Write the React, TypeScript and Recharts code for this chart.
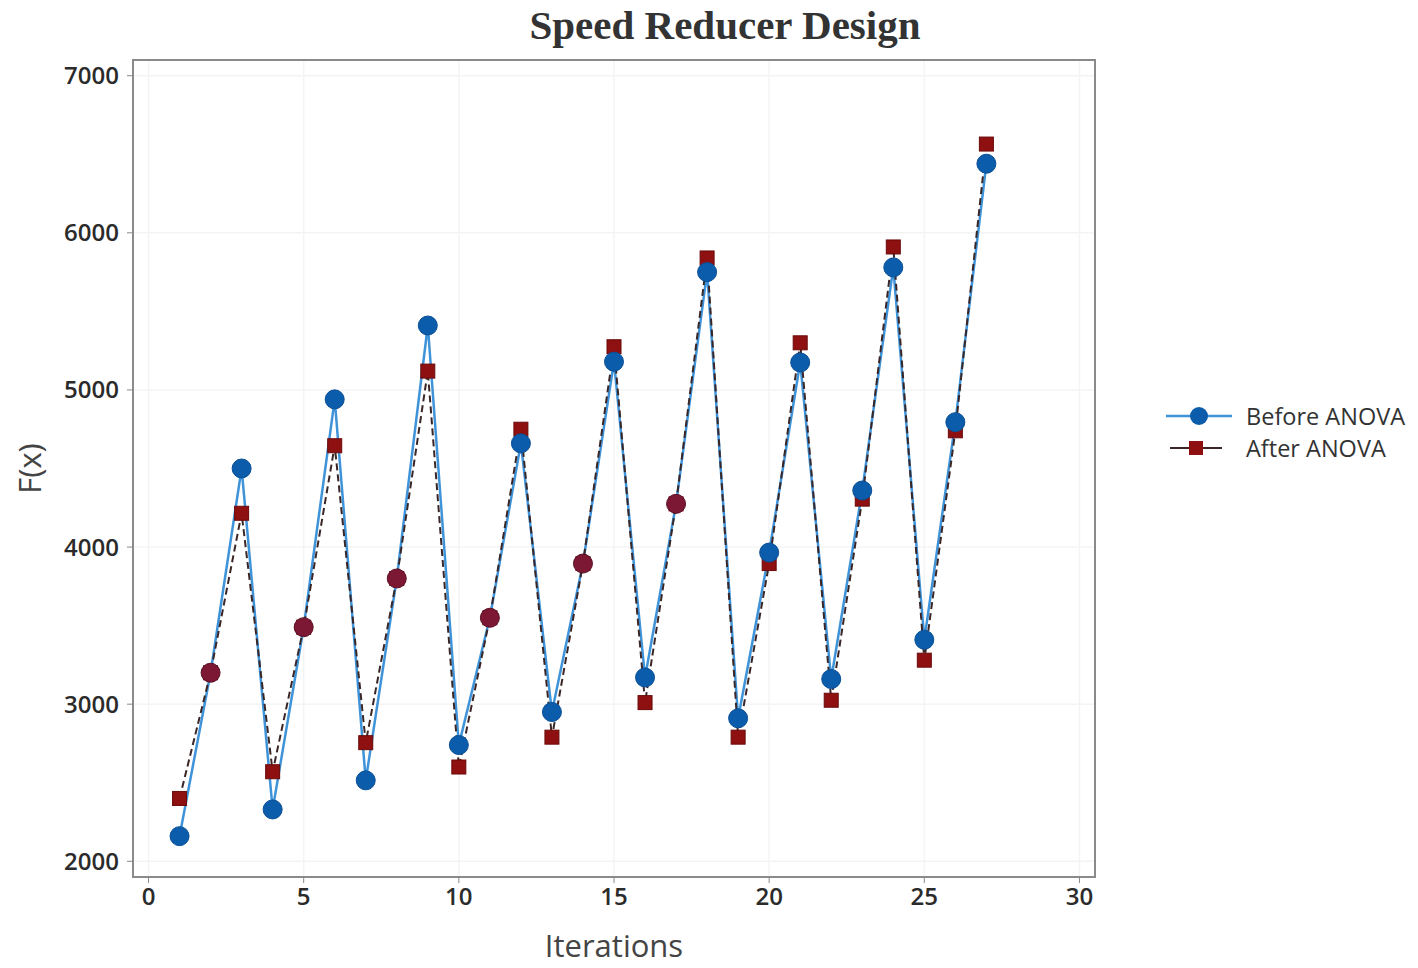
import React from "react";
import { LineChart, Line, XAxis, YAxis, CartesianGrid, ReferenceArea } from "recharts";

// values
const iterations = [1, 2, 3, 4, 5, 6, 7, 8, 9, 10, 11, 12, 13, 14, 15, 16, 17, 18, 19, 20, 21, 22, 23, 24, 25, 26, 27];
const beforeAnova = [2160, 3200, 4500, 2330, 3490, 4940, 2515, 3800, 5410, 2740, 3550, 4660, 2950, 3895, 5180, 3170, 4275, 5750, 2910, 3965, 5175, 3160, 4360, 5780, 3410, 4795, 6440];
const afterAnova = [2400, 3200, 4215, 2570, 3490, 4645, 2755, 3800, 5120, 2600, 3550, 4750, 2790, 3895, 5275, 3010, 4275, 5840, 2790, 3895, 5300, 3025, 4305, 5910, 3280, 4740, 6565];
const xTicks = [0, 5, 10, 15, 20, 25, 30];
const yTicks = [2000, 3000, 4000, 5000, 6000, 7000];

const data = iterations.map((it, i) => ({
  iter: it,
  before: beforeAnova[i],
  after: afterAnova[i],
}));

const BLUE_LINE = "#3f93d8";
const BLUE_DOT = "#0b5cab";
const RED_DOT = "#8e1010";
const DARK_LINE = "#3a2626";
const MIXED = "#7c1834";

const tickStyle = { fontFamily: "'Open Sans', sans-serif", fontSize: 24, fill: "#2b2b2b", fontWeight: 600 };
const axisTitle = { fontFamily: "'Open Sans', sans-serif", fontSize: 31, fill: "#444" };

const SquareDot = (props: any) => {
  const { cx, cy, index } = props;
  if (cx == null || cy == null) return null;
  return <rect key={"sq" + index} x={cx - 7} y={cy - 7} width={14} height={14} fill={RED_DOT} stroke="#6a0a0a" strokeWidth={1} />;
};

const CircleDot = (props: any) => {
  const { cx, cy, index, payload } = props;
  if (cx == null || cy == null) return null;
  const same = payload.before === payload.after;
  return <circle key={"c" + index} cx={cx} cy={cy} r={9.5} fill={same ? MIXED : BLUE_DOT} stroke={same ? "#5a0f22" : "#0a4f95"} strokeWidth={1} />;
};

const LegendBox = () => (
  <div style={{ position: "absolute", left: 1162, top: 399, fontFamily: "'Open Sans', sans-serif", fontSize: 23.5, color: "#333" }}>
    <div style={{ display: "flex", alignItems: "center", height: 34 }}>
      <svg width={76} height={24}>
        <line x1={4} y1={12} x2={70} y2={12} stroke={BLUE_LINE} strokeWidth={2.5} />
        <circle cx={37} cy={12} r={9} fill={BLUE_DOT} />
      </svg>
      <span style={{ marginLeft: 8 }}>Before ANOVA</span>
    </div>
    <div style={{ display: "flex", alignItems: "center", height: 30 }}>
      <svg width={76} height={24}>
        <line x1={8} y1={12} x2={60} y2={12} stroke={DARK_LINE} strokeWidth={2} />
        <rect x={27} y={5} width={14} height={14} fill={RED_DOT} />
      </svg>
      <span style={{ marginLeft: 8 }}>After ANOVA</span>
    </div>
  </div>
);

export default function App() {
  return (
    <div style={{ position: "absolute", left: 0, top: 0, width: 1418, height: 968, background: "#fff" }}>
      <div
        style={{
          position: "absolute",
          left: 0,
          width: 1450,
          top: 1,
          textAlign: "center",
          fontFamily: "'Liberation Serif', serif",
          fontWeight: 700,
          fontSize: 41,
          color: "#333",
        }}
      >
        Speed Reducer Design
      </div>
      <LineChart width={1418} height={968} data={data} margin={{ top: 60, right: 323, bottom: 11, left: 0 }}>
        <CartesianGrid stroke="#f4f4f4" strokeWidth={1.5} />
        <XAxis
          dataKey="iter"
          type="number"
          domain={[-0.5, 30.5]}
          ticks={xTicks}
          height={80}
          axisLine={false}
          tickLine={{ stroke: "#888" }}
          tickSize={6}
          tick={tickStyle}
          tickMargin={5}
          label={{ value: "Iterations", position: "insideBottom", offset: 0, style: axisTitle }}
        />
        <YAxis
          type="number"
          domain={[1900, 7100]}
          ticks={yTicks}
          width={133}
          axisLine={false}
          tickLine={{ stroke: "#888" }}
          tickSize={6}
          tick={tickStyle}
          tickMargin={8}
          label={{ value: "F(x)", angle: -90, position: "insideLeft", offset: 30, style: { ...axisTitle, textAnchor: "middle" } }}
        />
        <ReferenceArea x1={-0.5} x2={30.5} y1={1900} y2={7100} fill="none" stroke="#8a8a8a" strokeWidth={2} ifOverflow="visible" />
        <Line dataKey="before" name="Before ANOVA" stroke={BLUE_LINE} strokeWidth={2.5} dot={false} isAnimationActive={false} />
        <Line dataKey="after" name="After ANOVA" stroke={DARK_LINE} strokeWidth={2} strokeDasharray="7 4" dot={<SquareDot />} isAnimationActive={false} />
        <Line dataKey="before" name="Before dots" stroke="none" strokeWidth={0} dot={<CircleDot />} legendType="none" isAnimationActive={false} />
      </LineChart>
      <LegendBox />
    </div>
  );
}
